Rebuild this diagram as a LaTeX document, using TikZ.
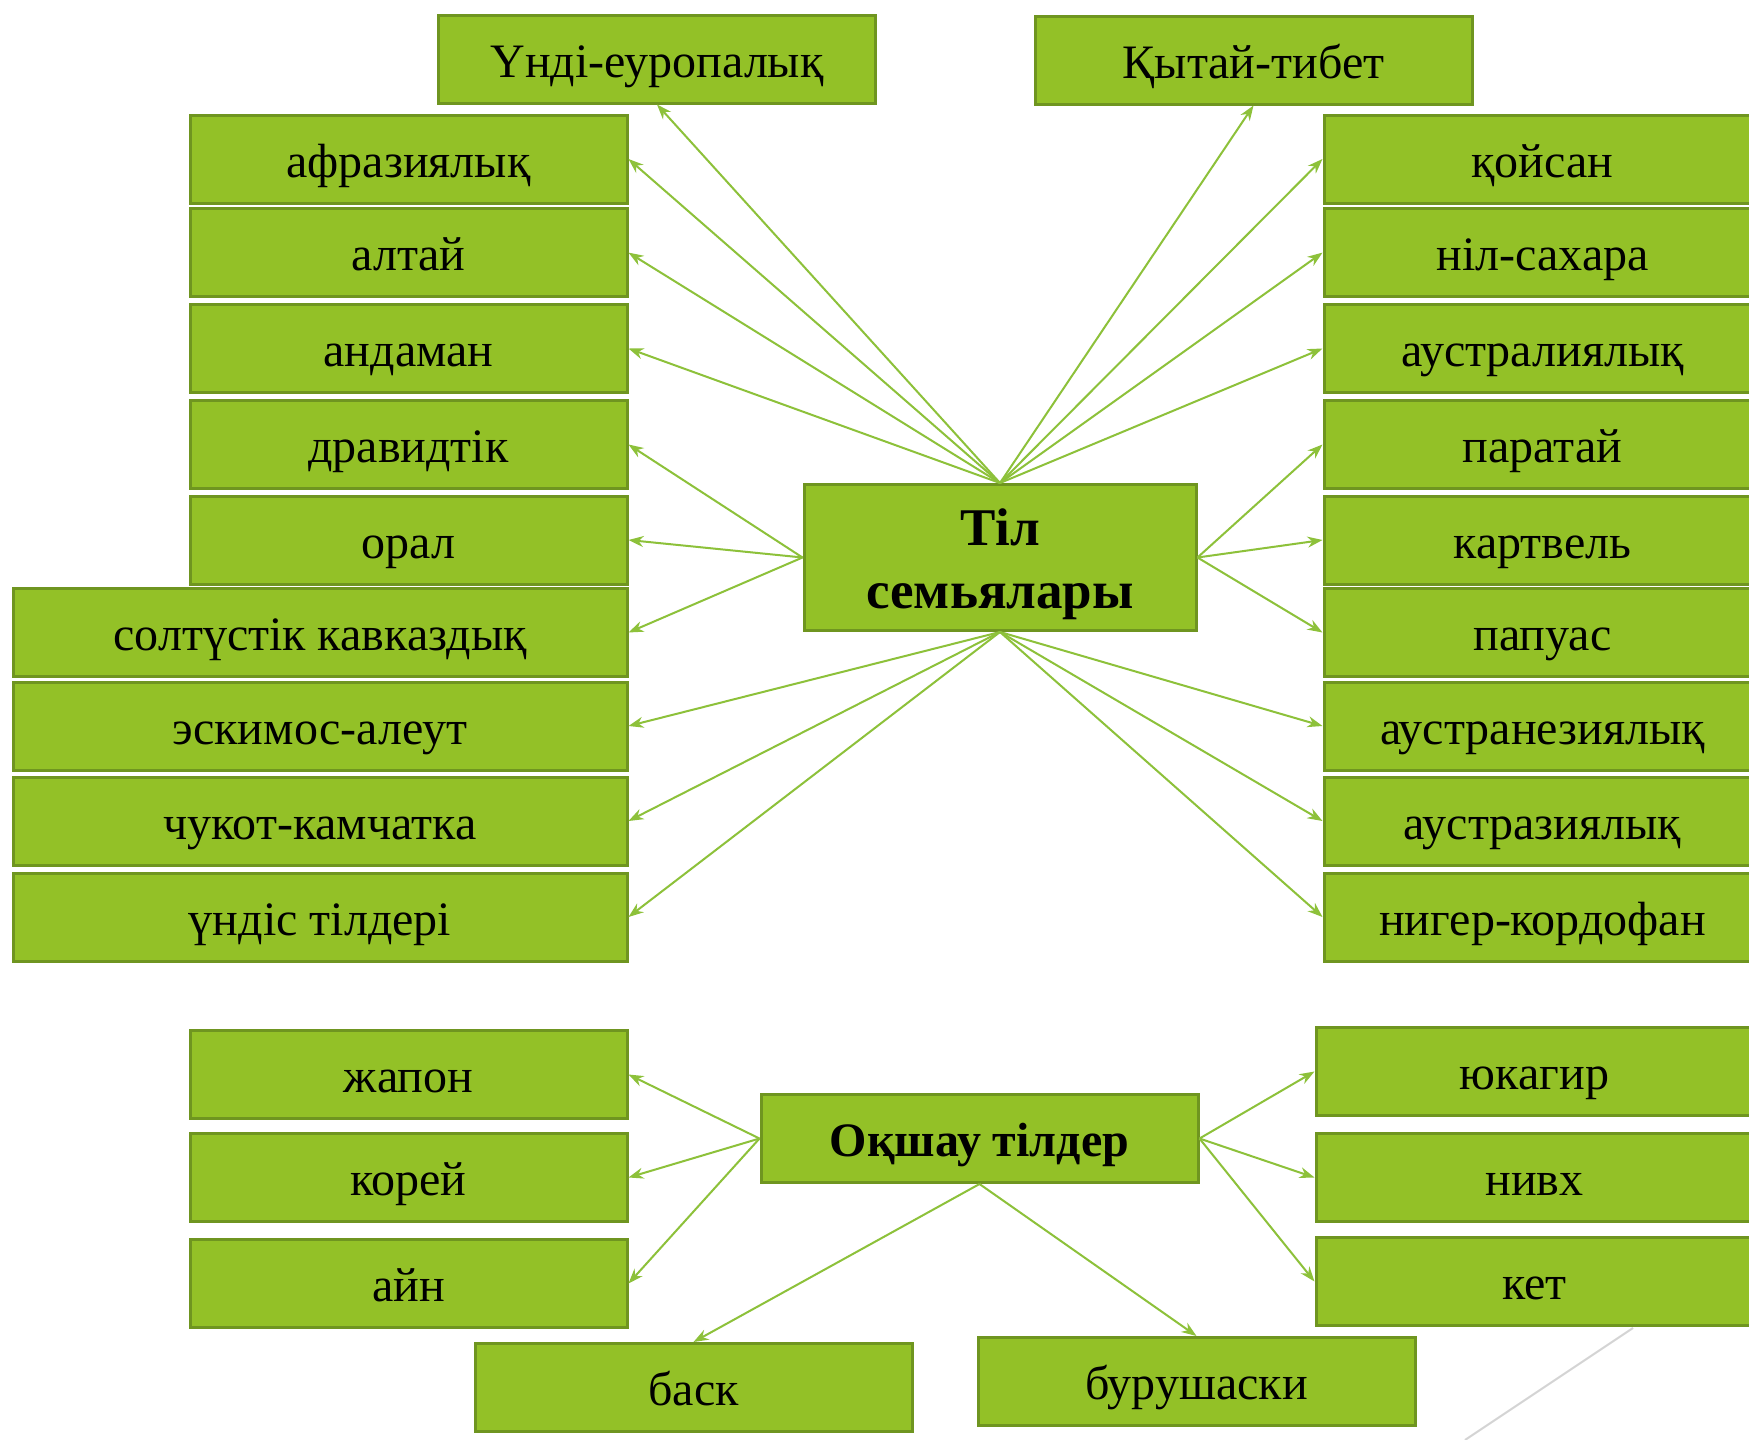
\documentclass[tikz,border=0pt]{standalone}
\usepackage{fontspec}
\setmainfont{Liberation Serif}
\usetikzlibrary{arrows.meta}
\definecolor{boxfill}{HTML}{93C127}
\definecolor{boxline}{HTML}{6F9520}
\definecolor{arr}{HTML}{8DC13A}
\definecolor{grayline}{HTML}{D4D4D4}
\tikzset{
  box/.style={draw=boxline, fill=boxfill, line width=3pt, inner sep=0pt,
    minimum width=437pt, minimum height=88pt, text height=36pt, text depth=0pt,
    font=\fontsize{48}{54}\selectfont, text=black},
  longbox/.style={box, minimum width=614pt},
  hub/.style={box, font=\fontsize{48}{54}\selectfont\bfseries},
  bighub/.style={box, minimum width=392pt, minimum height=146pt, align=center,
    text height=101pt, text depth=0pt,
    font=\fontsize{53}{63}\selectfont\bfseries},
  link/.style={draw=arr, line width=2pt, -{Stealth[length=15pt,width=11pt]}}
}
\begin{document}
\begin{tikzpicture}[x=1pt,y=-1pt]
\clip (0,0) rectangle (1749,1440);
\fill[white] (0,0) rectangle (1749,1440);
% top
\node[box] (ie) at (657,59) {Үнді-еуропалық};
\node[box] (kt) at (1253.5,60) {Қытай-тибет};
% left column
\node[box] (l1) at (408.5,159) {афразиялық};
\node[box] (l2) at (408.5,252.6) {алтай};
\node[box] (l3) at (408.5,348.5) {андаман};
\node[box] (l4) at (408.5,444.5) {дравидтік};
\node[box] (l5) at (408.5,540) {орал};
\node[longbox] (l6) at (320,632.5) {солтүстік кавказдық};
\node[longbox] (l7) at (320,726) {эскимос-алеут};
\node[longbox] (l8) at (320,821) {чукот-камчатка};
\node[longbox] (l9) at (320,917) {үндіс тілдері};
% right column
\node[box] (r1) at (1542.5,159) {қойсан};
\node[box] (r2) at (1542.5,252.6) {ніл-сахара};
\node[box] (r3) at (1542.5,348.5) {аустралиялық};
\node[box] (r4) at (1542.5,444.5) {паратай};
\node[box] (r5) at (1542.5,540) {картвель};
\node[box] (r6) at (1542.5,632.5) {папуас};
\node[box] (r7) at (1542.5,726) {аустранезиялық};
\node[box] (r8) at (1542.5,821) {аустразиялық};
\node[box] (r9) at (1542.5,917) {нигер-кордофан};
% centre
\node[bighub] (c) at (1000,557.5) {Тіл\\семьялары};
% isolates
\node[hub] (o) at (979.5,1138.5) {Оқшау тілдер};
\node[box] (b1) at (408.5,1074.5) {жапон};
\node[box] (b2) at (408.5,1177.5) {корей};
\node[box] (b3) at (408.5,1283.5) {айн};
\node[box] (d1) at (1534.5,1071.5) {юкагир};
\node[box] (d2) at (1534.5,1177.5) {нивх};
\node[box] (d3) at (1534.5,1281.5) {кет};
\node[box] (bs) at (693.5,1387.5) {баск};
\node[box] (bu) at (1196.5,1381.5) {бурушаски};
% connectors from centre
\foreach \t in {ie,kt} \draw[link] (c.north) -- (\t.south);
\foreach \t in {l1,l2,l3} \draw[link] (c.north) -- (\t.east);
\foreach \t in {r1,r2,r3} \draw[link] (c.north) -- (\t.west);
\foreach \t in {l4,l5,l6} \draw[link] (c.west) -- (\t.east);
\foreach \t in {r4,r5,r6} \draw[link] (c.east) -- (\t.west);
\foreach \t in {l7,l8,l9} \draw[link] (c.south) -- (\t.east);
\foreach \t in {r7,r8,r9} \draw[link] (c.south) -- (\t.west);
% connectors from isolates
\foreach \t in {b1,b2,b3} \draw[link] (o.west) -- (\t.east);
\foreach \t in {d1,d2,d3} \draw[link] (o.east) -- (\t.west);
\foreach \t in {bs,bu} \draw[link] (o.south) -- (\t.north);
% decorative grey line
\coordinate (g1) at (1633,1328);
\coordinate (g2) at (1465,1440);
\draw[grayline, line width=2pt] (g1) -- (g2);
\end{tikzpicture}
\end{document}
